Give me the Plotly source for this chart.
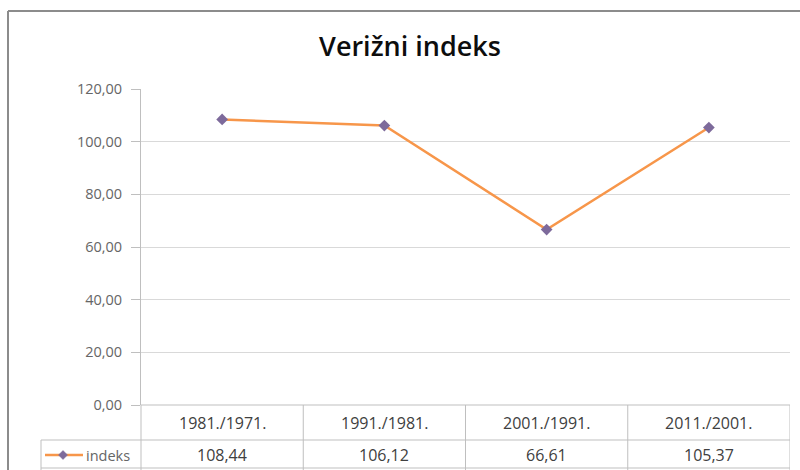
import plotly.graph_objects as go

categories = ["1981./1971.", "1991./1981.", "2001./1991.", "2011./2001."]
values = [108.44, 106.12, 66.61, 105.37]
series_name = "indeks"
y_ticks = [0, 20, 40, 60, 80, 100, 120]
title = "Verižni indeks"

W, H = 800, 470
def px(x):
    return x / W
def py(y):
    return (H - y) / H

FONT = "Open Sans"
LINE_C = "#F7964A"
MARK_C = "#7D6A9B"
GRID_C = "#D9D9D9"
TAB_C = "#BFBFBF"

xs = list(range(len(categories)))

fig = go.Figure()
fig.add_trace(go.Scatter(
    x=xs, y=values, mode="lines+markers", name=series_name,
    line=dict(color=LINE_C, width=2.5),
    marker=dict(symbol="diamond", size=9, color=MARK_C),
    showlegend=False,
))

def fmt(v):
    return f"{v:.2f}".replace(".", ",")

fig.update_layout(
    width=W, height=H, autosize=False,
    margin=dict(l=0, r=0, t=0, b=0),
    paper_bgcolor="white", plot_bgcolor="white",
    title=dict(text=title, x=410 / W, xanchor="center", y=py(47), yanchor="middle",
               font=dict(family=FONT, size=27, weight=600, color="#0d0d0d")),
    xaxis=dict(domain=[px(141), px(790)], range=[-0.5, len(categories) - 0.5],
               showticklabels=False, showgrid=False, zeroline=False, showline=False,
               fixedrange=True),
    yaxis=dict(domain=[py(405), py(89)], range=[0, 120], tickvals=y_ticks,
               ticktext=[fmt(v) for v in y_ticks],
               showgrid=True, gridcolor=GRID_C, gridwidth=1,
               zeroline=False, showline=True, linecolor=TAB_C, linewidth=1,
               ticks="outside", ticklen=9, tickcolor=TAB_C, ticklabelstandoff=6,
               tickfont=dict(family=FONT, size=14.5, color="#666666"),
               fixedrange=True, automargin=False),
)

shapes = []
# outer chart border (left & top)
shapes.append(dict(type="line", xref="paper", yref="paper", x0=px(8), x1=px(8), y0=py(11), y1=0,
                   line=dict(color="#8C8C8C", width=2)))
shapes.append(dict(type="line", xref="paper", yref="paper", x0=px(8), x1=1, y0=py(11), y1=py(11),
                   line=dict(color="#8C8C8C", width=2)))
# table
tl = dict(color=TAB_C, width=1)
shapes.append(dict(type="line", xref="paper", yref="paper", x0=px(141), x1=px(790), y0=py(405), y1=py(405), line=tl))
shapes.append(dict(type="line", xref="paper", yref="paper", x0=px(41), x1=px(790), y0=py(440), y1=py(440), line=tl))
shapes.append(dict(type="line", xref="paper", yref="paper", x0=px(41), x1=px(790), y0=py(468), y1=py(468), line=tl))
shapes.append(dict(type="line", xref="paper", yref="paper", x0=px(41), x1=px(41), y0=py(440), y1=0, line=tl))
shapes.append(dict(type="line", xref="paper", yref="paper", x0=px(141), x1=px(141), y0=py(405), y1=0, line=tl))
for i in range(len(categories)):
    shapes.append(dict(type="line", xref="x", yref="paper", x0=i + 0.5, x1=i + 0.5, y0=py(405), y1=0, line=tl))
# legend key
shapes.append(dict(type="line", xref="paper", yref="paper", x0=px(45), x1=px(83), y0=py(455), y1=py(455),
                   line=dict(color=LINE_C, width=2.5)))
cx, cy, d = 63, 455, 4.5
path = (f"M {px(cx - d)},{py(cy)} L {px(cx)},{py(cy - d)} L {px(cx + d)},{py(cy)} "
        f"L {px(cx)},{py(cy + d)} Z")
shapes.append(dict(type="path", xref="paper", yref="paper", path=path,
                   fillcolor=MARK_C, line=dict(color=MARK_C, width=0.5)))
fig.update_layout(shapes=shapes)

ann = []
for i, (c, v) in enumerate(zip(categories, values)):
    ann.append(dict(x=i, xref="x", y=py(423), yref="paper", text=c, showarrow=False,
                    font=dict(family=FONT, size=16, color="#404040"), xanchor="center", yanchor="middle"))
    ann.append(dict(x=i, xref="x", y=py(455), yref="paper", text=fmt(v), showarrow=False,
                    font=dict(family=FONT, size=16, color="#404040"), xanchor="center", yanchor="middle"))
ann.append(dict(x=px(84), xref="paper", y=py(455), yref="paper", text=series_name, showarrow=False,
                font=dict(family=FONT, size=14.5, color="#666666"), xanchor="left", yanchor="middle"))
fig.update_layout(annotations=ann)

fig.write_html(
    "out.html",
    config={"responsive": False, "displayModeBar": False},
    post_script="document.documentElement.style.margin='0';document.body.style.margin='0';"
                "document.body.style.padding='0';document.body.style.overflow='hidden';",
)
